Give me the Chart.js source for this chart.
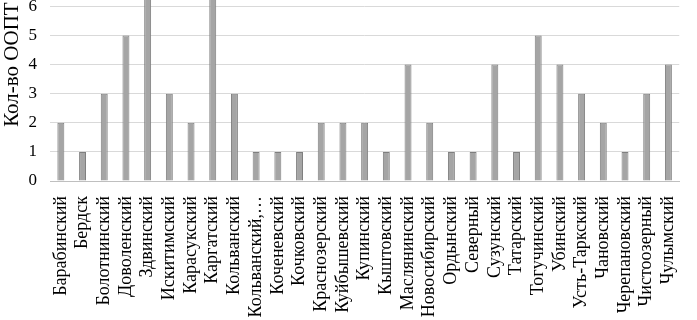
<!DOCTYPE html>
<html>
<head>
<meta charset="utf-8">
<script src="https://cdn.jsdelivr.net/npm/chart.js@4/dist/chart.umd.min.js"></script>
<style>
  html, body { margin: 0; padding: 0; background: #fff; overflow: hidden; }
  /* the top of the chart is cut off in the original picture */
  #wrap { width: 697px; height: 395px; margin-top: -75px; position: relative; }
</style>
</head>
<body>
<div id="wrap"><canvas id="chart"></canvas></div>
<script>
const districts = [
  'Барабинский', 'Бердск', 'Болотнинский', 'Доволенский', 'Здвинский',
  'Искитимский', 'Карасукский', 'Каргатский', 'Кольванский', 'Кольванский,…',
  'Коченевский', 'Кочковский', 'Краснозерский', 'Куйбышевский', 'Купинский',
  'Кыштовский', 'Маслянинский', 'Новосибирский', 'Ордынский', 'Северный',
  'Сузунский', 'Татарский', 'Тогучинский', 'Убинский', 'Усть-Таркский',
  'Чановский', 'Черепановский', 'Чистоозерный', 'Чулымский'
];
const oopt = [
  2, 1, 3, 5, 7,
  3, 2, 7, 3, 1,
  1, 1, 2, 2, 2,
  1, 4, 2, 1, 1,
  4, 1, 5, 4, 3,
  2, 1, 3, 4
];
const yTicks = [0, 1, 2, 3, 4, 5, 6, 7, 8];

const serif = '"Liberation Serif", "Times New Roman", serif';

new Chart(document.getElementById('chart'), {
  type: 'bar',
  data: {
    labels: districts,
    datasets: [{
      label: 'Кол-во ООПТ',
      data: oopt,
      backgroundColor: '#a5a5a5',
      borderColor: '#7f7f7f',
      borderWidth: 1,
      barPercentage: 0.32,
      categoryPercentage: 1
    }]
  },
  options: {
    responsive: true,
    maintainAspectRatio: false,
    animation: false,
    layout: { padding: { top: 8, right: 0, bottom: 0, left: 0 } },
    plugins: { legend: { display: false }, tooltip: { enabled: false } },
    scales: {
      x: {
        afterFit: axis => { axis.height = 139; },
        grid: { display: false },
        border: { display: true, color: '#bfbfbf', width: 1 },
        ticks: {
          color: '#000',
          font: { family: serif, size: 18 },
          minRotation: 90,
          maxRotation: 90,
          autoSkip: false,
          padding: 7
        }
      },
      y: {
        min: 0,
        max: 8,
        afterBuildTicks: axis => { axis.ticks = yTicks.map(v => ({ value: v })); },
        afterFit: axis => { axis.width = 50; },
        grid: { color: '#d9d9d9', drawTicks: false },
        border: { display: false },
        ticks: {
          color: '#000',
          font: { family: serif, size: 17 },
          padding: 13
        },
        title: {
          display: true,
          text: 'Кол-во ООПТ',
          color: '#000',
          font: { family: serif, size: 21 },
          padding: 0
        }
      }
    }
  }
});
</script>
</body>
</html>
